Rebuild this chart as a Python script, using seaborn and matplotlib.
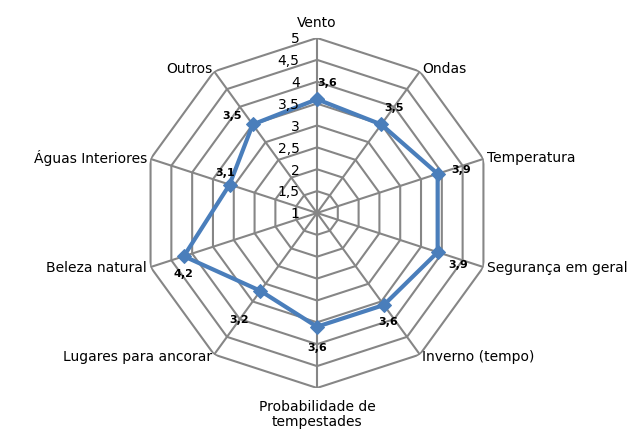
import numpy as np
import pandas as pd
import matplotlib
matplotlib.use("Agg")
import matplotlib.pyplot as plt
import matplotlib.transforms as mtransforms
import seaborn as sns

categories = ["Vento", "Ondas", "Temperatura", "Segurança em geral", "Inverno (tempo)",
              "Probabilidade de\ntempestades", "Lugares para ancorar", "Beleza natural",
              "Águas Interiores", "Outros"]
values = [3.6, 3.5, 3.9, 3.9, 3.6, 3.6, 3.2, 4.2, 3.1, 3.5]
value_labels = ["3,6", "3,5", "3,9", "3,9", "3,6", "3,6", "3,2", "4,2", "3,1", "3,5"]
ticks = [1, 1.5, 2, 2.5, 3, 3.5, 4, 4.5, 5]
tick_labels = ["1", "1,5", "2", "2,5", "3", "3,5", "4", "4,5", "5"]

# label offsets in points (style)
label_offsets = [(7, 12), (9, 12), (17, 3), (15, -9), (3, -12), (0, -15), (-15, -21),
                 (0, -13), (-3, 8), (-15, 6)]

sns.set_theme(style="white")
plt.rcParams['font.family'] = ['DejaVu Sans']

n = len(categories)
angles = np.arange(n) * 2 * np.pi / n
df = pd.DataFrame({"theta": np.append(angles, angles[0]),
                   "r": values + [values[0]],
                   "order": np.arange(n + 1)})

fig = plt.figure(figsize=(6.35, 4.29), dpi=100)
ax = fig.add_axes([0.2236, 0.0956, 0.5512, 0.8159], projection="polar")
ax.set_theta_zero_location("N")
ax.set_theta_direction(-1)
ax.set_ylim(1, 5)
ax.grid(False)
ax.spines["polar"].set_visible(False)
ax.set_xticks([])
ax.set_yticks([])
ax.set_facecolor("none")

grid_color = "#868686"
closed = np.append(angles, angles[0])
for t in ticks[1:]:
    ax.plot(closed, [t] * (n + 1), color=grid_color, lw=1.5, zorder=1)
for a in angles:
    ax.plot([a, a], [1, 5], color=grid_color, lw=1.5, zorder=1)

sns.lineplot(data=df, x="theta", y="r", sort=False, ax=ax, color="#4A7EBB",
             lw=3, marker="D", markersize=7, markeredgecolor="#4A7EBB", zorder=3,
             estimator=None)
ax.set_xlabel("")
ax.set_ylabel("")

# radial tick labels
for t, lab in zip(ticks, tick_labels):
    tr = mtransforms.offset_copy(ax.transData, fig=fig, x=-12.5, y=-1, units="points")
    ax.text(0, t, lab, transform=tr, ha="right", va="center", fontsize=10, color="black")

# category labels
for a, cat in zip(angles, categories):
    deg = np.degrees(a)
    dx, dy = 0, 0
    if deg == 0:
        ha, va, r = "center", "bottom", 5.0
        dy = 6
    elif abs(deg - 180) < 1:
        ha, va, r = "center", "top", 5.0
        dy = -8.5
    elif deg < 180:
        ha, va, r = "left", "center", 5.08
    else:
        ha, va, r = "right", "center", 5.08
    tr = mtransforms.offset_copy(ax.transData, fig=fig, x=dx, y=dy, units="points")
    ax.text(a, r, cat, transform=tr, ha=ha, va=va, fontsize=10, color="black",
            linespacing=1.1)

# data labels
for a, v, lab, (dx, dy) in zip(angles, values, value_labels, label_offsets):
    tr = mtransforms.offset_copy(ax.transData, fig=fig, x=dx, y=dy, units="points")
    ax.text(a, v, lab, transform=tr, ha="center", va="center", fontsize=8,
            fontweight="bold", color="black")

fig.savefig("out.png", dpi=100)
